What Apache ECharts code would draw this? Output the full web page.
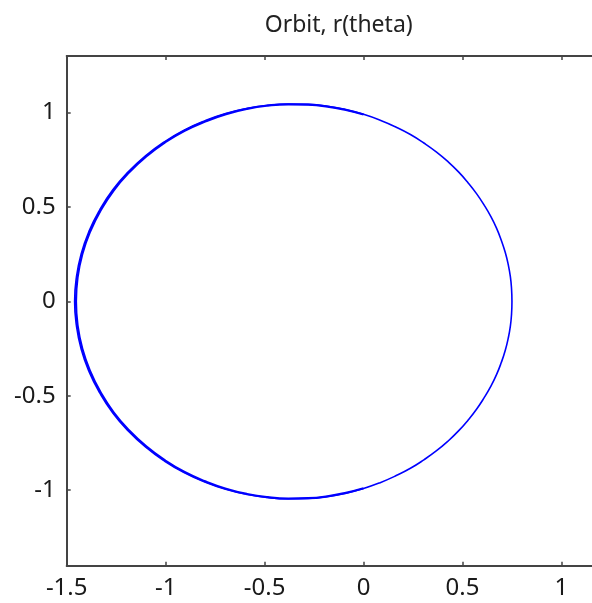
<!DOCTYPE html>
<html>
<head>
<meta charset="utf-8">
<script src="https://cdn.jsdelivr.net/npm/echarts@6/dist/echarts.min.js"></script>
<style>
html,body{margin:0;padding:0;background:#fff;overflow:hidden;width:592px;height:603px;}
#c{width:601px;height:603px;}
</style>
</head>
<body>
<div id="c"></div>
<script>
var titleText = 'Orbit, r(theta)';
var xTicks = [-1.5, -1, -0.5, 0, 0.5, 1];
var yTicks = [-1, -0.5, 0, 0.5, 1];

// orbit pass A (full revolution)
var orbitAX = [0.750, 0.748, 0.742, 0.731, 0.716, 0.696, 0.672, 0.643, 0.609, 0.571, 0.528, 0.480, 0.427, 0.369, 0.305, 0.237, 0.163, 0.084, 0.000, -0.089, -0.182, -0.280, -0.381, -0.485, -0.590, -0.697, -0.803, -0.907, -1.007, -1.102, -1.189, -1.267, -1.333, -1.387, -1.427, -1.451, -1.460,
  -1.451, -1.427, -1.387, -1.333, -1.267, -1.189, -1.102, -1.007, -0.907, -0.803, -0.697, -0.590, -0.485, -0.381, -0.280, -0.182, -0.089, 0.000, 0.084, 0.163, 0.237, 0.305, 0.369, 0.427, 0.480, 0.528, 0.571, 0.609, 0.643, 0.672, 0.696, 0.716, 0.731, 0.742, 0.748, 0.750];
var orbitAY = [0, 0.066, 0.131, 0.196, 0.260, 0.324, 0.388, 0.450, 0.511, 0.571, 0.629, 0.686, 0.740, 0.791, 0.839, 0.884, 0.924, 0.960, 0.991, 1.016, 1.034, 1.044, 1.046, 1.039, 1.022, 0.995, 0.956, 0.907, 0.845, 0.771, 0.686, 0.591, 0.485, 0.372, 0.252, 0.127, 0,
  -0.127, -0.252, -0.372, -0.485, -0.591, -0.686, -0.771, -0.845, -0.907, -0.956, -0.995, -1.022, -1.039, -1.046, -1.044, -1.034, -1.016, -0.991, -0.960, -0.924, -0.884, -0.839, -0.791, -0.740, -0.686, -0.629, -0.571, -0.511, -0.450, -0.388, -0.324, -0.260, -0.196, -0.131, -0.066, 0];

// orbit pass B (overlapping far side, slightly different)
var orbitBX = [0.000, -0.089, -0.182, -0.280, -0.380, -0.484, -0.589, -0.695, -0.800, -0.904, -1.003, -1.098, -1.184, -1.262, -1.328, -1.381, -1.421, -1.445, -1.453, -1.445, -1.421, -1.381, -1.328, -1.262, -1.184, -1.098, -1.003, -0.904, -0.800, -0.695, -0.589, -0.484, -0.380, -0.280, -0.182, -0.089, 0.000];
var orbitBY = [0.990, 1.014, 1.032, 1.042, 1.044, 1.037, 1.020, 0.992, 0.953, 0.904, 0.842, 0.768, 0.684, 0.589, 0.483, 0.371, 0.251, 0.127, 0, -0.127, -0.251, -0.371, -0.483, -0.589, -0.684, -0.768, -0.842, -0.904, -0.953, -0.992, -1.020, -1.037, -1.044, -1.042, -1.032, -1.014, -0.990];

function zip(xs, ys){ var out=[]; for (var i=0;i<xs.length;i++) out.push([xs[i], ys[i]]); return out; }

var FONT = 'Noto Sans';
var axisColor = '#444';
var chart = echarts.init(document.getElementById('c'), null, {renderer:'canvas'});
var lineCommon = {
  type:'line', showSymbol:false, smooth:0.5, animation:false, silent:true
};
chart.setOption({
  animation:false,
  backgroundColor:'#fff',
  title:{
    text:titleText, left:333.7, top:9, textAlign:'center',
    textStyle:{fontFamily:FONT, fontSize:23, fontWeight:'normal', color:'#222'}
  },
  grid:{left:66.7, right:0, top:56, bottom:37.3, containLabel:false},
  xAxis:[{
    type:'value', min:-1.5, max:1.2, position:'bottom',
    splitLine:{show:false},
    axisLine:{show:true, onZero:false, lineStyle:{color:axisColor, width:2}},
    axisTick:{show:true, inside:true, length:4, customValues:xTicks, lineStyle:{color:axisColor, width:1.5}},
    axisLabel:{show:true, margin:10, customValues:xTicks, fontFamily:FONT, fontSize:24, color:'#1a1a1a'}
  },{
    type:'value', min:-1.5, max:1.2, position:'top',
    splitLine:{show:false},
    axisLine:{show:true, onZero:false, lineStyle:{color:axisColor, width:2}},
    axisTick:{show:true, inside:true, length:4, customValues:xTicks, lineStyle:{color:axisColor, width:1.5}},
    axisLabel:{show:false}
  }],
  yAxis:{
    type:'value', min:-1.4, max:1.3,
    splitLine:{show:false},
    axisLine:{show:true, onZero:false, lineStyle:{color:axisColor, width:2}},
    axisTick:{show:true, inside:true, length:4, customValues:yTicks, lineStyle:{color:axisColor, width:1.5}},
    axisLabel:{show:true, margin:11, customValues:yTicks, fontFamily:FONT, fontSize:24, color:'#1a1a1a'}
  },
  series:[
    Object.assign({}, lineCommon, {name:'orbit A', xAxisIndex:0, data:zip(orbitAX, orbitAY), lineStyle:{color:'#0000ff', width:1.6}}),
    Object.assign({}, lineCommon, {name:'orbit B', xAxisIndex:0, data:zip(orbitBX, orbitBY), lineStyle:{color:'#0000ff', width:2.2}})
  ]
});
</script>
</body>
</html>
